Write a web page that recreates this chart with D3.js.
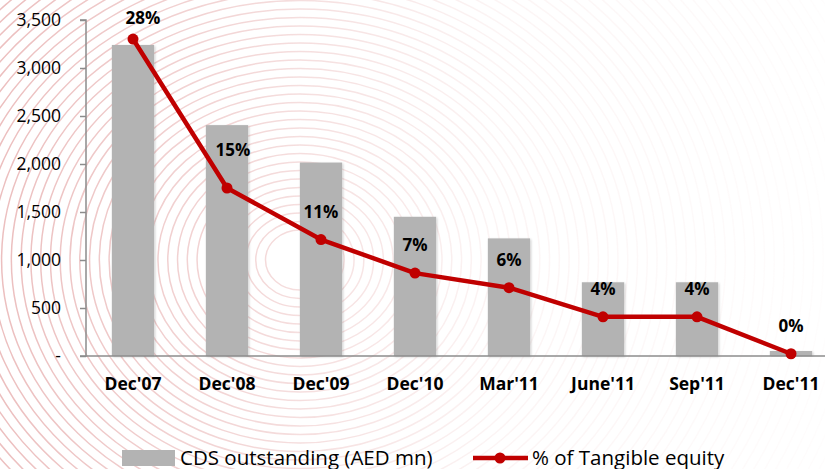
<!DOCTYPE html>
<html lang="en">
<head>
<meta charset="utf-8" />
<script src="https://cdn.jsdelivr.net/npm/d3@7"></script>
<style>
body { margin: 0; background: #fff; }
svg text { font-family: 'Open Sans', sans-serif; fill: #000; }
.tick-label { font-size: 17.5px; }
.cat-label { font-size: 17.5px; font-weight: bold; }
.pct-label { font-size: 17px; font-weight: bold; }
.legend-label { font-size: 20.5px; }
</style>
</head>
<body>
<svg id="chart" width="825" height="469"></svg>
<script>
var periods = ["Dec'07", "Dec'08", "Dec'09", "Dec'10", "Mar'11", "June'11", "Sep'11", "Dec'11"];
var cdsOutstanding = [3240, 2405, 2015, 1450, 1225, 768, 768, 52];
var tangiblePct = [28.3, 15.0, 10.4, 7.4, 6.1, 3.5, 3.5, 0.2];
var pctLabels = ["28%", "15%", "11%", "7%", "6%", "4%", "4%", "0%"];
var yTicks = [0, 500, 1000, 1500, 2000, 2500, 3000, 3500];

var width = 825, height = 469;
var svg = d3.select('#chart');

var x = d3.scaleBand().domain(periods).range([86, 838]).paddingInner(0.55).paddingOuter(0.275);
var y = d3.scaleLinear().domain([0, 3500]).range([356, 20]);
var yPct = d3.scaleLinear().domain([0, 30]).range([356, 20]);

// faint background swirl
var defs = svg.append('defs');
var grad = defs.append('linearGradient').attr('id', 'fade').attr('x1', 0).attr('x2', 1).attr('y1', 0).attr('y2', 0);
grad.append('stop').attr('offset', 0).attr('stop-color', '#fff').attr('stop-opacity', 0.9);
grad.append('stop').attr('offset', 0.3).attr('stop-color', '#fff').attr('stop-opacity', 0.55);
grad.append('stop').attr('offset', 0.6).attr('stop-color', '#fff').attr('stop-opacity', 0.15);
grad.append('stop').attr('offset', 1).attr('stop-color', '#fff').attr('stop-opacity', 0.03);
var mask = defs.append('mask').attr('id', 'bgmask');
mask.append('rect').attr('width', width).attr('height', height).attr('fill', 'url(#fade)');
var shadow = defs.append('filter').attr('id', 'shadow').attr('x', '-20%').attr('y', '-5%').attr('width', '140%').attr('height', '115%');
shadow.append('feDropShadow').attr('dx', 1).attr('dy', 1).attr('stdDeviation', 1.2).attr('flood-color', '#000').attr('flood-opacity', 0.2);

svg.append('g').attr('mask', 'url(#bgmask)')
  .selectAll('ellipse')
  .data(d3.range(30, 700, 8.5))
  .enter().append('ellipse')
  .attr('cx', 300).attr('cy', 260)
  .attr('rx', function(d) { return d * 1.15; })
  .attr('ry', function(d) { return d; })
  .attr('fill', 'none')
  .attr('stroke', '#eab8b8')
  .attr('stroke-width', 1.5);

// bars
svg.append('g').selectAll('rect')
  .data(periods)
  .enter().append('rect')
  .attr('x', function(d) { return x(d); })
  .attr('width', x.bandwidth())
  .attr('y', function(d, i) { return y(cdsOutstanding[i]); })
  .attr('height', function(d, i) { return y(0) - y(cdsOutstanding[i]); })
  .attr('fill', '#b3b3b3')
  .attr('filter', 'url(#shadow)');

// axes
var yAxis = d3.axisLeft(y).tickValues(yTicks).tickSize(6).tickPadding(19)
  .tickFormat(function(d) { return d === 0 ? '-' : d3.format(',')(d); });
var gy = svg.append('g').attr('transform', 'translate(86,0)').call(yAxis);
gy.select('.domain').attr('stroke', '#8c8c8c').attr('stroke-width', 1.5).attr('d', 'M-6,20H0V356H-6');
gy.selectAll('.tick line').attr('stroke', '#8c8c8c').attr('stroke-width', 1.5);
gy.selectAll('.tick text').attr('class', 'tick-label').attr('font-family', null).attr('font-size', null);

svg.append('line').attr('x1', 86).attr('x2', width).attr('y1', y(0)).attr('y2', y(0))
  .attr('stroke', '#8c8c8c').attr('stroke-width', 1.5);

svg.append('g').selectAll('text')
  .data(periods)
  .enter().append('text')
  .attr('class', 'cat-label')
  .attr('x', function(d) { return x(d) + x.bandwidth() / 2; })
  .attr('y', 390)
  .attr('text-anchor', 'middle')
  .text(function(d) { return d; });

// line series
var cx = function(d, i) { return x(periods[i]) + x.bandwidth() / 2; };
var line = d3.line().x(cx).y(function(d) { return yPct(d); });
svg.append('path').datum(tangiblePct)
  .attr('d', line)
  .attr('fill', 'none')
  .attr('stroke', '#c00000')
  .attr('stroke-width', 4.5)
  .attr('stroke-linejoin', 'round');
svg.append('g').selectAll('circle')
  .data(tangiblePct)
  .enter().append('circle')
  .attr('cx', cx).attr('cy', function(d) { return yPct(d); })
  .attr('r', 5.5).attr('fill', '#c00000');

// percentage labels (first two nudged like the original)
var nudge = { 0: [10, 0], 1: [6, -10] };
svg.append('g').selectAll('text')
  .data(tangiblePct)
  .enter().append('text')
  .attr('class', 'pct-label')
  .attr('text-anchor', 'middle')
  .attr('x', function(d, i) { return cx(d, i) + (nudge[i] ? nudge[i][0] : 0); })
  .attr('y', function(d, i) { return Math.max(24, yPct(d) - 22) + (nudge[i] ? nudge[i][1] : 0); })
  .text(function(d, i) { return pctLabels[i]; });

// legend
var lg = svg.append('g');
lg.append('rect').attr('x', 122).attr('y', 450).attr('width', 53).attr('height', 16).attr('fill', '#b3b3b3');
lg.append('text').attr('class', 'legend-label').attr('x', 180).attr('y', 465).text('CDS outstanding (AED mn)');
lg.append('line').attr('x1', 473).attr('x2', 528).attr('y1', 458).attr('y2', 458)
  .attr('stroke', '#c00000').attr('stroke-width', 4.5);
lg.append('circle').attr('cx', 500).attr('cy', 458).attr('r', 5.5).attr('fill', '#c00000');
lg.append('text').attr('class', 'legend-label').attr('x', 532).attr('y', 465).text('% of Tangible equity');
</script>
</body>
</html>
